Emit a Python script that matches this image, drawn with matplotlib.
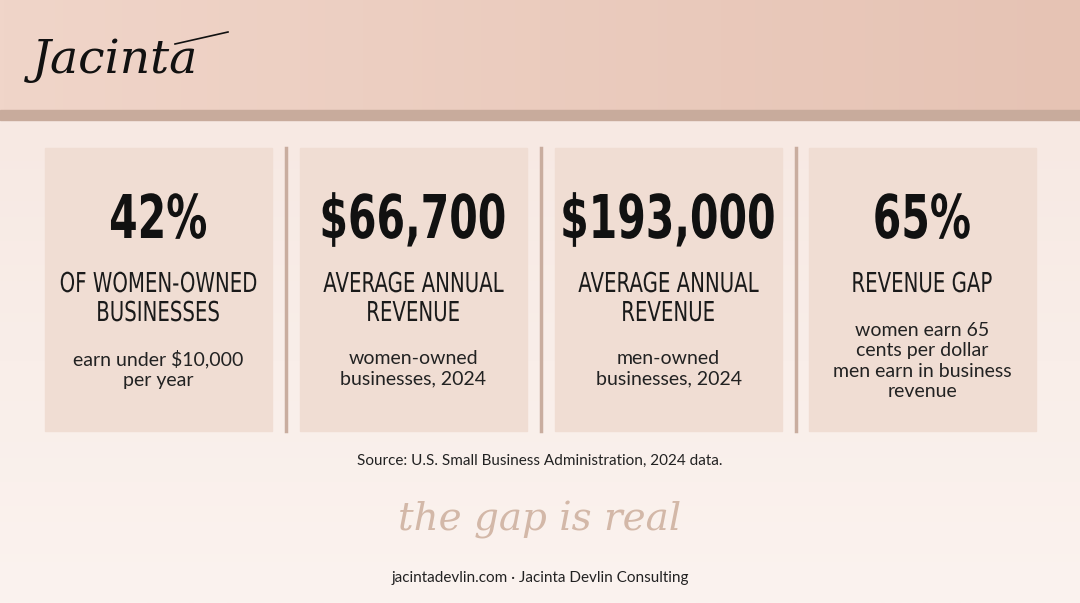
import matplotlib
matplotlib.use("Agg")
import matplotlib.pyplot as plt
from matplotlib.patches import Rectangle, PathPatch
from matplotlib.textpath import TextPath
from matplotlib.font_manager import FontProperties
from matplotlib.transforms import Affine2D
from matplotlib.colors import LinearSegmentedColormap
import numpy as np

values = ["42%", "$66,700", "$193,000", "65%"]
headings = ["OF WOMEN-OWNED\nBUSINESSES", "AVERAGE ANNUAL\nREVENUE", "AVERAGE ANNUAL\nREVENUE", "REVENUE GAP"]
descriptions = ["earn under $10,000\nper year", "women-owned\nbusinesses, 2024",
                "men-owned\nbusinesses, 2024", "women earn 65\ncents per dollar\nmen earn in business\nrevenue"]
source = "Source: U.S. Small Business Administration, 2024 data."
tagline = "the gap is real"
footer = "jacintadevlin.com · Jacinta Devlin Consulting"
logo = "Jacinta"

W, H = 1080, 603
fig = plt.figure(figsize=(W/100, H/100), dpi=100)
ax = fig.add_axes([0, 0, 1, 1])
ax.set_xlim(0, W); ax.set_ylim(H, 0); ax.axis("off")

bg = LinearSegmentedColormap.from_list("bg", ["#f7e9e3", "#fbf3ef"])
ax.imshow(np.linspace(0, 1, 256).reshape(-1, 1), extent=(0, W, H, 120), cmap=bg, aspect="auto", zorder=0)
top = LinearSegmentedColormap.from_list("top", ["#f0d5c9", "#e6c3b4"])
ax.imshow(np.linspace(0, 1, 256).reshape(1, -1), extent=(0, W, 110, 0), cmap=top, aspect="auto", zorder=0)
ax.add_patch(Rectangle((0, 110), W, 10, color="#c8ab9c", zorder=1))

def narrow_text(s, cx, cy, cap_px, sx, weight="normal", color="#111111"):
    fp = FontProperties(family="DejaVu Sans", weight=weight)
    tp = TextPath((0, 0), s, size=1, prop=fp)
    capref = TextPath((0, 0), "H", size=1, prop=fp).get_extents()
    ext = tp.get_extents()
    k = cap_px / capref.height
    w = ext.width * k * sx
    tr = (Affine2D().translate(-ext.x0 - ext.width/2, -capref.height/2)
          .scale(k * sx, -k).translate(cx, cy))
    ax.add_patch(PathPatch(tr.transform_path(tp), fc=color, ec="none", zorder=3))

lefts = [45, 300, 555, 809]
cw, ctop, cbot = 227, 148, 431
for i, x0 in enumerate(lefts):
    ax.add_patch(Rectangle((x0, ctop), cw, cbot - ctop, color="#f0ddd3", zorder=2))
    cx = x0 + cw/2
    narrow_text(values[i], cx, 216, 44, 0.68, weight="bold")
    lines = headings[i].split("\n")
    ys = [282] if len(lines) == 1 else [282, 311]
    for ln, y in zip(lines, ys):
        narrow_text(ln, cx, y, 20, 0.72, color="#1a1a1a")
    dl = descriptions[i].count("\n") + 1
    dy = 369 if dl == 2 else 361
    ax.text(cx, dy, descriptions[i], ha="center", va="center", fontsize=14, family="Lato",
            color="#222222", linespacing=1.25, zorder=3)
for x in [286, 541, 796]:
    ax.plot([x, x], [ctop, cbot], color="#c9ad9f", lw=2.5, zorder=2)

ax.text(540, 461, source, ha="center", va="center", fontsize=11, family="Lato", color="#222222")
ax.text(540, 520, tagline, ha="center", va="center", fontsize=28, family="DejaVu Serif",
        style="italic", color="#d3b8a8")
ax.text(540, 578, footer, ha="center", va="center", fontsize=11, family="Lato", color="#222222")
ax.text(32, 60, logo, ha="left", va="center", fontsize=34, family="DejaVu Serif",
        style="italic", color="#111111")
ax.plot([175, 228], [44, 32], color="#111111", lw=1.2)

fig.savefig("out.png", dpi=100)
